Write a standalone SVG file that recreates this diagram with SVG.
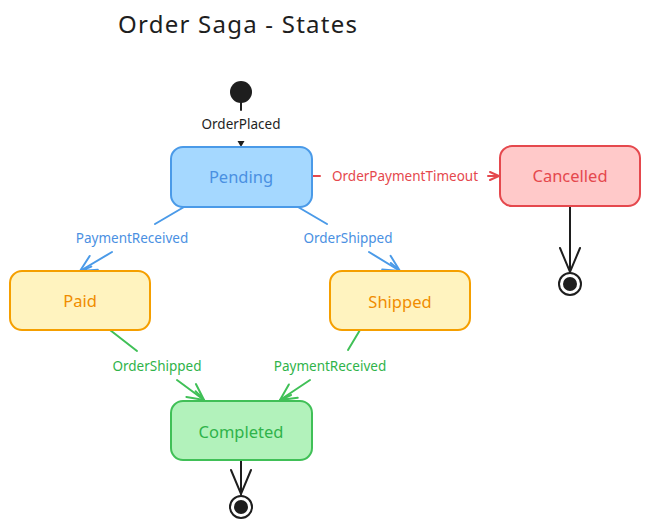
<svg xmlns="http://www.w3.org/2000/svg" width="650" height="530" viewBox="0 0 650 530">
<style>
text{font-family:"Noto Sans","DejaVu Sans",sans-serif;text-anchor:middle;dominant-baseline:central}
.title{font-size:24px;fill:#1e1e1e;text-anchor:start}
.state{stroke-width:2}
.name{font-size:16.5px}
.lbl{font-size:13.5px}
.ln{fill:none;stroke-width:2;stroke-linecap:round}
</style>
<defs>
<marker id="ab" markerUnits="userSpaceOnUse" markerWidth="30" markerHeight="30" viewBox="-20 -15 25 30" refX="0" refY="0" orient="auto"><path d="M-16 -8 L0 0 L-16 8 M-12 -2 L0 0" fill="none" stroke="#4a9ae8" stroke-width="2" stroke-linecap="round"/></marker>
<marker id="ag" markerUnits="userSpaceOnUse" markerWidth="30" markerHeight="30" viewBox="-20 -15 25 30" refX="0" refY="0" orient="auto"><path d="M-16 -8 L0 0 L-16 8 M-12 -2 L0 0" fill="none" stroke="#40c057" stroke-width="2" stroke-linecap="round"/></marker>
<marker id="ar" markerUnits="userSpaceOnUse" markerWidth="20" markerHeight="20" viewBox="-12 -10 15 20" refX="0" refY="0" orient="auto"><path d="M-9 -4 L0 0 L-9 4" fill="none" stroke="#e5484d" stroke-width="2" stroke-linecap="round"/></marker>
<marker id="ak" markerUnits="userSpaceOnUse" markerWidth="40" markerHeight="40" viewBox="-30 -20 35 40" refX="0" refY="0" orient="auto"><path d="M-24 -10 L0 0 L-24 10" fill="none" stroke="#1e1e1e" stroke-width="2" stroke-linecap="round"/></marker>
</defs>
<text class="title" x="118" y="23" textLength="239" lengthAdjust="spacing">Order Saga - States</text>
<g id="connectors">
<line class="ln" x1="241" y1="100" x2="241" y2="110" stroke="#1e1e1e"/>
<text class="lbl" x="241" y="124" fill="#1e1e1e">OrderPlaced</text>
<path d="M237.5 141 L244.5 141 L241 147 Z" fill="#1e1e1e"/>
<line class="ln" x1="313" y1="176" x2="320" y2="176" stroke="#e5484d"/>
<text class="lbl" x="405" y="176" fill="#e5484d">OrderPaymentTimeout</text>
<line class="ln" x1="488" y1="176" x2="499" y2="176" stroke="#e5484d" marker-end="url(#ar)"/>
<line class="ln" x1="570" y1="207" x2="570" y2="272" stroke="#1e1e1e" marker-end="url(#ak)"/>
<line class="ln" x1="184" y1="207" x2="155" y2="224" stroke="#4a9ae8"/>
<text class="lbl" x="132" y="238" fill="#4a90e2">PaymentReceived</text>
<line class="ln" x1="112" y1="252" x2="80" y2="271" stroke="#4a9ae8" marker-end="url(#ab)"/>
<line class="ln" x1="298" y1="207" x2="327" y2="224" stroke="#4a9ae8"/>
<text class="lbl" x="348" y="238" fill="#4a90e2">OrderShipped</text>
<line class="ln" x1="369" y1="252" x2="400" y2="271" stroke="#4a9ae8" marker-end="url(#ab)"/>
<line class="ln" x1="110" y1="330" x2="137" y2="351" stroke="#40c057"/>
<text class="lbl" x="157" y="366" fill="#2fb34a">OrderShipped</text>
<line class="ln" x1="177" y1="380" x2="204" y2="400" stroke="#40c057" marker-end="url(#ag)"/>
<line class="ln" x1="360" y1="330" x2="348" y2="350" stroke="#40c057"/>
<text class="lbl" x="330" y="366" fill="#2fb34a">PaymentReceived</text>
<line class="ln" x1="310" y1="380" x2="280" y2="400" stroke="#40c057" marker-end="url(#ag)"/>
<line class="ln" x1="241" y1="461" x2="241" y2="494" stroke="#1e1e1e" marker-end="url(#ak)"/>
</g>
<g id="start"><circle cx="241" cy="92" r="11" fill="#1e1e1e"/></g>
<g id="pending"><rect class="state" x="171" y="147" width="141" height="60" rx="12" fill="#a5d8ff" stroke="#4a9ae8"/><text class="name" x="241" y="176" fill="#4a90e2">Pending</text></g>
<g id="cancelled"><rect class="state" x="500" y="146" width="140" height="60" rx="12" fill="#ffc9c9" stroke="#e5484d"/><text class="name" x="570" y="175" fill="#e5484d">Cancelled</text></g>
<g id="paid"><rect class="state" x="10" y="271" width="140" height="59" rx="12" fill="#fff3bf" stroke="#f59f00"/><text class="name" x="80" y="300" fill="#f08c00">Paid</text></g>
<g id="shipped"><rect class="state" x="330" y="271" width="140" height="59" rx="12" fill="#fff3bf" stroke="#f59f00"/><text class="name" x="400" y="301" fill="#f08c00">Shipped</text></g>
<g id="completed"><rect class="state" x="171" y="401" width="141" height="59" rx="12" fill="#b2f2bb" stroke="#40c057"/><text class="name" x="241" y="431" fill="#2fb34a">Completed</text></g>
<g id="end-cancelled"><circle cx="570" cy="284" r="11" fill="#fff" stroke="#1e1e1e" stroke-width="2"/><circle cx="570" cy="284" r="7" fill="#1e1e1e"/></g>
<g id="end-completed"><circle cx="241" cy="507" r="11" fill="#fff" stroke="#1e1e1e" stroke-width="2"/><circle cx="241" cy="507" r="7" fill="#1e1e1e"/></g>
</svg>
